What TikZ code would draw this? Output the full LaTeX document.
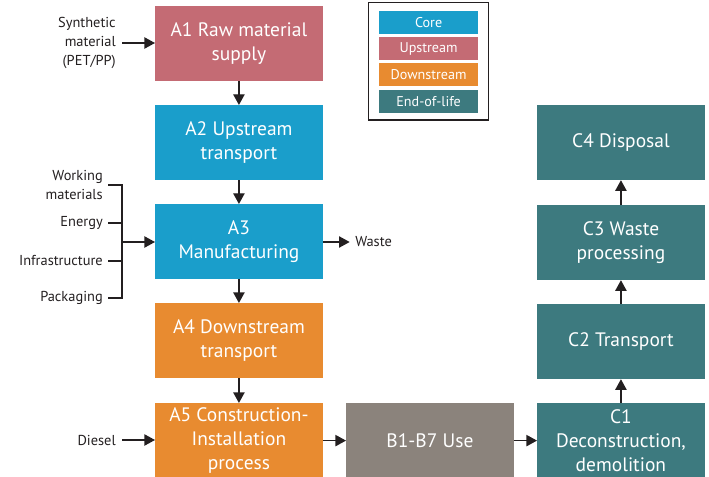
\documentclass[tikz,border=0pt]{standalone}
\usepackage{fontspec}
\setmainfont{PT Sans}
\usetikzlibrary{arrows.meta}
\definecolor{core}{HTML}{1A9ECB}
\definecolor{up}{HTML}{C46B74}
\definecolor{down}{HTML}{E88B30}
\definecolor{eol}{HTML}{3D7A7F}
\definecolor{usec}{HTML}{8B837C}
\definecolor{txt}{HTML}{231F20}
\tikzset{
  box/.style={draw=none, minimum width=125.5pt, minimum height=56pt, inner sep=0pt,
    text=white, align=center, font=\fontsize{14.6}{18}\selectfont, anchor=north west},
  leg/.style={draw=none, minimum width=74pt, minimum height=17pt, inner sep=0pt,
    text=white, font=\fontsize{10.6}{12}\selectfont, anchor=north west},
  lbl/.style={text=txt, align=right, font=\fontsize{10.8}{14}\selectfont, inner sep=0pt},
  arr/.style={draw=txt, line width=1pt, -{Triangle[length=8pt,width=8.5pt]}},
  ln/.style={draw=txt, line width=1pt}
}
\begin{document}
\begin{tikzpicture}[x=0.75pt,y=-0.75pt]
\useasboundingbox (0,0) rectangle (709,477);
% main boxes
\node[box, fill=up] (a1) at (155,6) {A1 Raw material\\supply};
\node[box, fill=core] (a2) at (155,105) {A2 Upstream\\transport};
\node[box, fill=core] (a3) at (155,204) {A3\\Manufacturing};
\node[box, fill=down] (a4) at (155,303) {A4 Downstream\\transport};
\node[box, fill=down] (a5) at (155,403) {A5 Construction-\\Installation\\process};
\node[box, fill=usec] (b) at (346,403) {B1-B7 Use};
\node[box, fill=eol] (c1) at (537,403) {C1\\Deconstruction,\\demolition};
\node[box, fill=eol] (c2) at (537,304) {C2 Transport};
\node[box, fill=eol] (c3) at (537,205) {C3 Waste\\processing};
\node[box, fill=eol] (c4) at (537,105) {C4 Disposal};
% legend
\node[draw=txt, line width=1pt, minimum width=90pt, minimum height=88pt, inner sep=0pt, anchor=north west] (legbox) at (368,2) {};
\node[leg, fill=core] (l1) at (379,11) {Core};
\node[leg, fill=up] (l2) at (379,37) {Upstream};
\node[leg, fill=down] (l3) at (379,63) {Downstream};
\node[leg, fill=eol] (l4) at (379,90) {End-of-life};
% vertical flow
\draw[arr] (a1) -- (a2);
\draw[arr] (a2) -- (a3);
\draw[arr] (a3) -- (a4);
\draw[arr] (a4) -- (a5);
\draw[arr] (a5) -- (b);
\draw[arr] (b) -- (c1);
\draw[arr] (c1) -- (c2);
\draw[arr] (c2) -- (c3);
\draw[arr] (c3) -- (c4);
% inputs
\node[lbl, anchor=east] (syn) at (116,43) {Synthetic\\material\\(PET/PP)};
\draw[arr] (syn.east) ++(6,0) coordinate (s0) (s0) -- (a1.west |- s0);
\node[lbl, anchor=east] (wm) at (103,185) {Working\\materials};
\node[lbl, anchor=east] (en) at (103,223) {Energy};
\node[lbl, anchor=east] (inf) at (103,261) {Infrastructure};
\node[lbl, anchor=east] (pk) at (103,298) {Packaging};
\coordinate (bt) at (122,185);
\coordinate (bb) at (122,298);
\coordinate (bm) at (122,242);
\draw[ln] (108,185) -- (bt) -- (bb) -- (108,298);
\draw[ln] (108,223) -- (122,223);
\draw[ln] (108,261) -- (122,261);
\draw[arr] (bm) -- (a3.west |- bm);
\node[lbl, anchor=west] (waste) at (355,242) {Waste};
\draw[arr] (a3.east |- waste) -- ([xshift=-4pt]waste.west);
\node[lbl, anchor=east] (dsl) at (116,440) {Diesel};
\draw[arr] (dsl.east) ++(6,0) coordinate (d0) (d0) -- (a5.west |- d0);
\end{tikzpicture}
\end{document}
